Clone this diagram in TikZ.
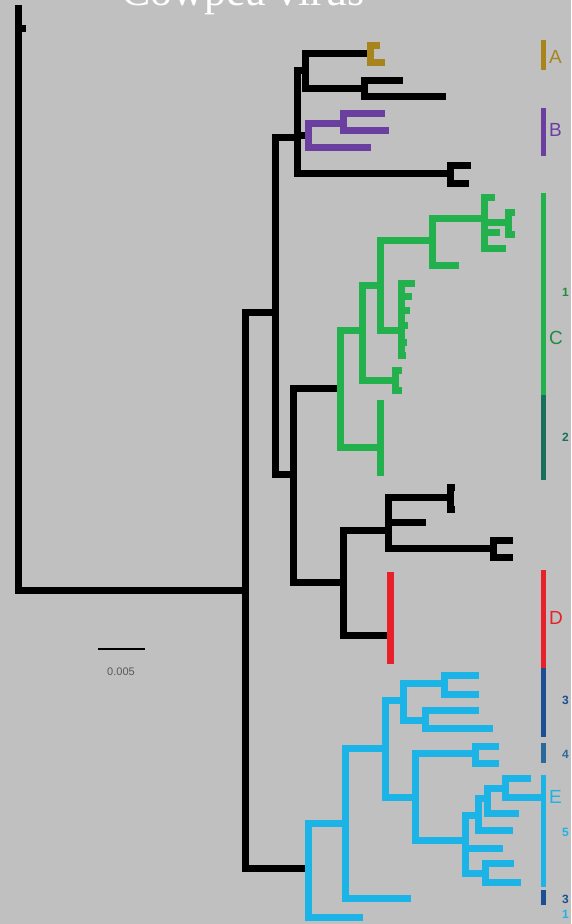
\documentclass[tikz,border=0pt]{standalone}
\usepackage{fontspec}
\setmainfont{Liberation Sans}
\newfontfamily\titlefont{Liberation Serif}
\definecolor{bg}{HTML}{C0C0C0}
\definecolor{cA}{HTML}{A8841C}
\definecolor{cB}{HTML}{6B3FA0}
\definecolor{cC}{HTML}{22B14C}
\definecolor{cCtwo}{HTML}{1A6E5C}
\definecolor{cD}{HTML}{E8202A}
\definecolor{cE}{HTML}{1CB4E6}
\definecolor{cEthree}{HTML}{1C4E92}
\definecolor{cEfour}{HTML}{2A6A9A}
\begin{document}
\begin{tikzpicture}[x=1pt,y=-1pt,
  br/.style={line width=7pt,line cap=rect,line join=miter},
  bar/.style={line width=5pt},
  lab/.style={font=\fontsize{19}{19}\selectfont,anchor=west,inner sep=0pt},
  num/.style={font=\bfseries\fontsize{12}{12}\selectfont,anchor=west,inner sep=0pt}]
\useasboundingbox (0,0) rectangle (571,924);
\fill[bg] (0,0) rectangle (571,924);
\node[anchor=base,text=white,font=\titlefont\fontsize{44}{44}\selectfont,inner sep=0pt] (title) at (243,5) {Cowpea virus};

% ---- coordinates: backbone
\coordinate (R) at (18,590);
\coordinate (r0) at (18,8);
\coordinate (r1) at (22,28);
\coordinate (N1) at (245,590);
\coordinate (N2) at (275,312);
\coordinate (NE) at (308,868);
\coordinate (N3) at (297,137);
\coordinate (N4) at (293,474);
\coordinate (N5) at (305,70);
\coordinate (PB) at (308,135);
\coordinate (BL) at (450,173);
\coordinate (GA) at (370,53);
\coordinate (N6) at (364,88);
\coordinate (a1) at (376,45);
\coordinate (a2) at (381,62);
\coordinate (n6a) at (399,80);
\coordinate (n6b) at (442,96);
\coordinate (PB1) at (343,123);
\coordinate (pb2) at (367,147);
\coordinate (pb1a) at (381,113);
\coordinate (pb1b) at (385,130);
\coordinate (bl1) at (467,165);
\coordinate (bl2) at (465,183);
% green
\coordinate (GC) at (340,388);
\coordinate (G1) at (362,330);
\coordinate (G2) at (380,447);
\coordinate (G3) at (380,285);
\coordinate (G4) at (395,380);
\coordinate (G5) at (432,240);
\coordinate (G6) at (401,330);
\coordinate (g4a) at (398,370);
\coordinate (g4b) at (398,390);
\coordinate (g6a) at (411,283);
\coordinate (g6b) at (408,296);
\coordinate (g6c) at (406,310);
\coordinate (g6d) at (404,325);
\coordinate (g6e) at (403,342);
\coordinate (g6f) at (402,355);
\coordinate (g5b) at (455,265);
\coordinate (G7) at (484,218);
\coordinate (g7a) at (491,197);
\coordinate (G8) at (508,222);
\coordinate (g7c) at (496,232);
\coordinate (g7d) at (502,248);
\coordinate (g8a) at (511,212);
\coordinate (g8b) at (511,234);
\coordinate (g2a) at (380,403);
\coordinate (g2b) at (380,472);
% black / red
\coordinate (N7) at (343,582);
\coordinate (N8) at (388,530);
\coordinate (RD) at (390,635);
\coordinate (N9) at (450,497);
\coordinate (n8b) at (422,522);
\coordinate (N10) at (493,548);
\coordinate (n9a) at (451,487);
\coordinate (n9b) at (451,509);
\coordinate (n10a) at (509,540);
\coordinate (n10b) at (509,557);
\coordinate (rd1) at (390,575);
\coordinate (rd2) at (390,660);
% cyan
\coordinate (E1) at (345,823);
\coordinate (ne2) at (359,917);
\coordinate (E2) at (385,748);
\coordinate (e1b) at (407,898);
\coordinate (E3) at (403,700);
\coordinate (E4) at (415,797);
\coordinate (E5) at (444,683);
\coordinate (E6) at (425,720);
\coordinate (e5a) at (475,675);
\coordinate (e5b) at (475,694);
\coordinate (e6a) at (475,710);
\coordinate (e6b) at (489,728);
\coordinate (E7) at (475,753);
\coordinate (E8) at (465,840);
\coordinate (e7a) at (495,746);
\coordinate (e7b) at (495,763);
\coordinate (E9) at (478,815);
\coordinate (e8b) at (499,848);
\coordinate (E12) at (485,873);
\coordinate (E10) at (487,798);
\coordinate (e9b) at (509,830);
\coordinate (E11) at (505,788);
\coordinate (e10b) at (515,813);
\coordinate (e11a) at (527,778);
\coordinate (e11b) at (540,797);
\coordinate (e12a) at (510,863);
\coordinate (e12b) at (517,882);

% ---- branches
\foreach \p/\c in {R/r0,R/r1,R/N1,N1/N2,N1/NE,N2/N3,N2/N4,N3/N5,N3/PB,N3/BL,
  N5/GA,N5/N6,N6/n6a,N6/n6b,BL/bl1,BL/bl2,N4/GC,N4/N7,N7/N8,N7/RD,
  N8/N9,N8/n8b,N8/N10,N9/n9a,N9/n9b,N10/n10a,N10/n10b}
  \draw[br,black] (\p) |- (\c);
\foreach \p/\c in {GA/a1,GA/a2}
  \draw[br,cA] (\p) |- (\c);
\foreach \p/\c in {PB/PB1,PB/pb2,PB1/pb1a,PB1/pb1b}
  \draw[br,cB] (\p) |- (\c);
\foreach \p/\c in {GC/G1,GC/G2,G1/G3,G1/G4,G4/g4a,G4/g4b,G3/G5,G3/G6,
  G6/g6a,G6/g6b,G6/g6c,G6/g6d,G6/g6e,G6/g6f,G5/G7,G5/g5b,G7/g7a,G7/G8,
  G7/g7c,G7/g7d,G8/g8a,G8/g8b,G2/g2a,G2/g2b}
  \draw[br,cC] (\p) |- (\c);
\foreach \p/\c in {RD/rd1,RD/rd2}
  \draw[br,cD] (\p) |- (\c);
\foreach \p/\c in {NE/E1,NE/ne2,E1/E2,E1/e1b,E2/E3,E2/E4,E3/E5,E3/E6,
  E5/e5a,E5/e5b,E6/e6a,E6/e6b,E4/E7,E4/E8,E7/e7a,E7/e7b,E8/E9,E8/e8b,
  E8/E12,E9/E10,E9/e9b,E10/E11,E10/e10b,E11/e11a,E11/e11b,E12/e12a,E12/e12b}
  \draw[br,cE] (\p) |- (\c);

% ---- clade bars
\draw[bar,cA] (543,40) -- (543,70);
\draw[bar,cB] (543,108) -- (543,156);
\draw[bar,cC] (543,193) -- (543,395);
\draw[bar,cCtwo] (543,395) -- (543,480);
\draw[bar,cD] (543,570) -- (543,668);
\draw[bar,cEthree] (543,668) -- (543,737);
\draw[bar,cEfour] (543,743) -- (543,763);
\draw[bar,cE] (543,775) -- (543,887);
\draw[bar,cEthree] (543,890) -- (543,905);

% ---- labels
\node[lab,text=cA] (labA) at (549,57) {A};
\node[lab,text=cB] (labB) at (549,130) {B};
\node[lab,text=cC!80!black] (labC) at (549,338) {C};
\node[lab,text=cD] (labD) at (549,618) {D};
\node[lab,text=cE] (labE) at (549,797) {E};
\node[num,text=cC!80!black] (n1) at (562,292) {1};
\node[num,text=cCtwo] (n2) at (562,437) {2};
\node[num,text=cEthree] (n3) at (562,700) {3};
\node[num,text=cEfour] (n4) at (562,754) {4};
\node[num,text=cE] (n5) at (562,832) {5};
\node[num,text=cEthree] (n3b) at (562,899) {3};
\node[num,text=cE] (n1b) at (562,914) {1};

% ---- scale bar
\coordinate (sb1) at (98,649);
\coordinate (sb2) at (145,649);
\draw[line width=1.5pt] (sb1) -- (sb2);
\node[font=\fontsize{11}{11}\selectfont,text=black!65,inner sep=0pt] (sbl) at (121,672) {0.005};
\end{tikzpicture}
\end{document}
